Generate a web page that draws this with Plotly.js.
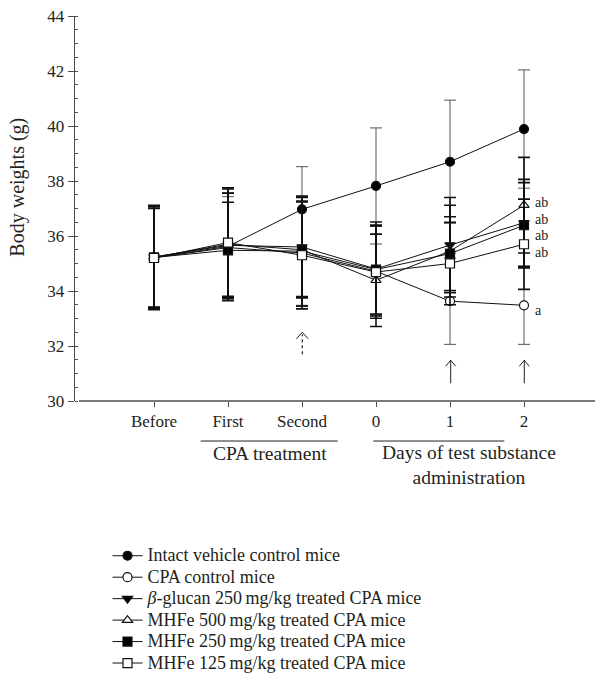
<!DOCTYPE html>
<html>
<head>
<meta charset="utf-8">
<script src="https://cdn.plot.ly/plotly-3.0.1.min.js"></script>
<style>html,body{margin:0;padding:0;background:#fff;}#chart{width:595px;height:675px;}</style>
</head>
<body>
<div id="chart"></div>
<script>
// ---- data ----
const categories = ["Before", "First", "Second", "0", "1", "2"];
const seriesNames = [
  "Intact vehicle control mice",
  "CPA control mice",
  "<i>β</i>-glucan 250\u2009mg/kg treated CPA mice",
  "MHFe 500\u2009mg/kg treated CPA mice",
  "MHFe 250\u2009mg/kg treated CPA mice",
  "MHFe 125\u2009mg/kg treated CPA mice"
];
const intact     = [35.22, 35.62, 36.97, 37.82, 38.70, 39.89];
const intactErr  = [1.85, 1.95, 1.55, 2.11, 2.24, 2.15];
const cpa        = [35.21, 35.58, 35.38, 34.72, 33.63, 33.48];
const cpaErr     = [1.88, 1.85, 1.90, 1.63, 1.57, 1.42];
const glucan     = [35.24, 35.66, 35.60, 34.80, 35.67, 36.48];
const glucanErr  = [1.82, 1.90, 1.80, 1.71, 1.73, 1.58];
const mhfe500    = [35.23, 35.70, 35.50, 34.39, 35.45, 37.12];
const mhfe500Err = [1.87, 2.05, 1.75, 1.68, 1.67, 1.74];
const mhfe250    = [35.22, 35.48, 35.45, 34.78, 35.36, 36.39];
const mhfe250Err = [1.90, 1.75, 2.00, 1.62, 1.34, 1.55];
const mhfe125    = [35.20, 35.76, 35.30, 34.69, 35.00, 35.70];
const mhfe125Err = [1.80, 1.95, 1.95, 1.68, 1.50, 1.64];
const sigLabels  = ["ab", "ab", "ab", "ab", "a"];
const sigLabelY  = [37.21, 36.60, 36.01, 35.40, 33.30];
const groupLabels = ["CPA treatment", "Days of test substance<br>administration"];

// ---- layout helpers (pixel -> paper) ----
const W = 595, H = 675, L = 75, T = 16, PB = 400.7;
const PW = W - L, PH = PB - T;
const px = v => (v - L) / PW;
const py = v => (PB - v) / PH;
const FONT = "Liberation Serif, Times New Roman, serif";
const INK = "#231f20";
const AX = "#4d4d4d";

const vals = [intact, cpa, glucan, mhfe500, mhfe250, mhfe125];
const errs = [intactErr, cpaErr, glucanErr, mhfe500Err, mhfe250Err, mhfe125Err];
const symbols = ["circle", "circle", "triangle-down", "triangle-up", "square", "square"];
const fills = ["#000", "#fff", "#000", "#fff", "#000", "#fff"];
const ebW = [1, 1, 1.6, 1.6, 1.6, 1.6];
const ebC = ["#555", "#555", "#111", "#111", "#111", "#111"];

const traces = vals.map((v, i) => ({
  type: "scatter", mode: "lines+markers",
  x: categories, y: v,
  name: '<span style="font-size:18px">' + seriesNames[i] + '</span>',
  line: {color: "#111", width: 1},
  marker: {symbol: symbols[i], size: 9, color: fills[i], line: {color: "#111", width: 1.2}},
  error_y: {type: "data", array: errs[i], visible: true, color: ebC[i], thickness: ebW[i], width: 6},
  cliponaxis: false
}));

const annotations = [];
sigLabels.forEach((t, i) => annotations.push({
  xref: "x", yref: "y", x: 5.117, y: sigLabelY[i], text: t, showarrow: false,
  xanchor: "left", yanchor: "middle", font: {family: FONT, size: 14, color: INK}
}));
annotations.push({xref: "paper", yref: "paper", x: px(269.5), y: py(453), text: groupLabels[0], showarrow: false,
  xanchor: "center", yanchor: "middle", font: {family: FONT, size: 19.5, color: INK}});
annotations.push({xref: "paper", yref: "paper", x: px(469), y: py(465), text: groupLabels[1], showarrow: false,
  xanchor: "center", yanchor: "middle", align: "center", font: {family: FONT, size: 19.5, color: INK}});
annotations.push({xref: "paper", yref: "paper", x: px(18), y: py(187.5), text: "Body weights (g)", showarrow: false,
  textangle: -90, xanchor: "center", yanchor: "middle", font: {family: FONT, size: 20, color: INK}});

const shapes = [];
// x axis baseline (offset from y axis)
shapes.push({type: "line", xref: "paper", yref: "paper", x0: px(79), x1: 1, y0: 0, y1: 0, line: {color: AX, width: 1.3}});
// group underlines
shapes.push({type: "line", xref: "paper", yref: "paper", x0: px(200.7), x1: px(337.7), y0: py(440.7), y1: py(440.7), line: {color: INK, width: 1}});
shapes.push({type: "line", xref: "paper", yref: "paper", x0: px(373.3), x1: px(504.3), y0: py(440.7), y1: py(440.7), line: {color: INK, width: 1}});
// solid arrows at days 1 and 2
[450.7, 524.3].forEach(xp => {
  shapes.push({type: "line", xref: "paper", yref: "paper", x0: px(xp), x1: px(xp), y0: py(383), y1: py(360), line: {color: INK, width: 1}});
  shapes.push({type: "path", xref: "paper", yref: "paper",
    path: `M ${px(xp-5)},${py(366)} L ${px(xp)},${py(360)} L ${px(xp+5)},${py(366)}`, line: {color: INK, width: 1}});
});
// dotted arrow at second CPA treatment
shapes.push({type: "line", xref: "paper", yref: "paper", x0: px(302.3), x1: px(302.3), y0: py(354), y1: py(334), line: {color: INK, width: 1.2, dash: "dot"}});
shapes.push({type: "path", xref: "paper", yref: "paper",
  path: `M ${px(296.5)},${py(338.5)} L ${px(302.3)},${py(332)} L ${px(308.1)},${py(338.5)}`, line: {color: INK, width: 1}});

const layout = {
  width: W, height: H,
  margin: {l: L, r: 0, t: T, b: H - PB, pad: 0, autoexpand: false},
  paper_bgcolor: "#fff", plot_bgcolor: "#fff",
  font: {family: FONT, size: 15, color: INK},
  showlegend: true,
  legend: {xref: "container", yref: "container", x: 107.5 / W, xanchor: "left", y: 1 - 540 / H, yanchor: "top",
    bgcolor: "rgba(0,0,0,0)", font: {family: FONT, size: 14.2, color: INK}, tracegroupgap: 0, itemwidth: 30},
  xaxis: {type: "category", range: [-1.0676, 5.9595], showline: false, showgrid: false, zeroline: false,
    ticks: "outside", ticklen: 5, tickwidth: 1, tickcolor: AX, tickfont: {family: FONT, size: 17, color: INK}},
  yaxis: {range: [30, 44], dtick: 2, tick0: 30, showline: true, linecolor: AX, linewidth: 1.3, showgrid: false, zeroline: false,
    ticks: "outside", ticklen: 6, tickwidth: 1, tickcolor: AX, tickfont: {family: FONT, size: 17, color: INK},
    minor: {dtick: 0.5, ticks: "inside", ticklen: 3, tickcolor: AX, tickwidth: 1}},
  annotations: annotations, shapes: shapes
};

Plotly.newPlot("chart", traces, layout, {displayModeBar: false, staticPlot: true});
</script>
</body>
</html>
